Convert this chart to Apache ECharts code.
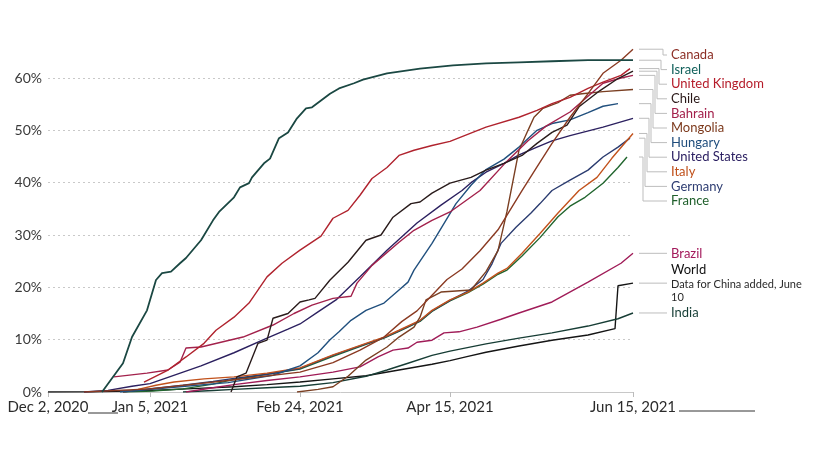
<!DOCTYPE html>
<html><head><meta charset="utf-8">
<script src="https://cdn.jsdelivr.net/npm/echarts@6/dist/echarts.min.js"></script>
<style>html,body{margin:0;padding:0;background:#fff}#c{width:816px;height:459px}</style>
</head><body><div id="c"></div>
<script>
// x values are days since Dec 2, 2020; y values are % of population with at least one dose
const tickDays = [0, 34, 84, 134, 195];
const tickLabels = ['Dec 2, 2020', 'Jan 5, 2021', 'Feb 24, 2021', 'Apr 15, 2021', 'Jun 15, 2021'];

const canada = [[12,0],[34,0.6],[60,2.2],[84,3.8],[95,5.6],[104,8],[112,10.5],[118,13.5],[123,15.5],[128,18.5],[133,21.5],[138,23.5],[144,27],[150,31],[153,33.8],[158,38.5],[163,43],[168,47.5],[174,52.5],[180,57],[185,60.9],[191,63.4],[195,65.5]];
const israel = [[18,0],[25,5.5],[28,10.5],[33,15.6],[36,21.4],[38,22.7],[41,23],[44,24.6],[46,25.6],[51,29],[55,32.8],[57,34.4],[62,37.2],[64,39.1],[67,39.9],[68,41],[72,43.7],[74,44.6],[77,48.5],[80,49.6],[83,52.3],[86,54.2],[88,54.4],[91,55.7],[94,57],[97,58],[102,59],[105,59.7],[113,60.9],[124,61.8],[135,62.4],[146,62.8],[157,63],[168,63.2],[180,63.4],[195,63.4]];
const uk = [[32,1.9],[40,4.2],[46,6.7],[52,9.3],[56,11.8],[62,14.3],[67,17],[73,22],[78,24.6],[84,27.1],[91,29.8],[95,33.2],[100,34.7],[104,37.6],[108,40.8],[113,42.9],[117,45.2],[122,46.2],[128,47.1],[134,47.9],[146,50.6],[157,52.5],[163,53.8],[168,55.1],[174,56.3],[180,58],[185,59.2],[191,60.5],[194,61.8]];
const chile = [[61,0],[63,2.9],[66,3.6],[70,9.3],[73,9.9],[75,14.1],[80,15],[84,17.2],[87,17.6],[89,17.9],[94,21.4],[100,24.8],[106,29],[111,30],[115,33.4],[121,36],[124,36.3],[128,38],[134,39.9],[141,41],[146,42.4],[152,43.7],[158,45.2],[163,47.5],[168,49.6],[173,51],[177,54.5],[184,57.6],[190,59.9],[195,61.3]];
const bahrain = [[22,2.9],[33,3.6],[40,4.2],[44,5.7],[46,8.4],[51,8.6],[65,10.5],[75,12.8],[82,15],[88,16.6],[95,17.9],[101,18.3],[103,20.8],[108,24.2],[117,28.6],[122,30.9],[128,32.8],[134,34.4],[144,38.5],[152,43.5],[160,48],[166,50.8],[174,53.5],[180,56.5],[185,59],[191,60],[195,60.5]];
const mongolia = [[83,0],[90,0.5],[95,1],[100,3],[106,6.1],[113,8.6],[117,10.5],[122,12.4],[124,14.3],[126,17.6],[131,19.1],[141,19.5],[146,23],[150,27],[153,34.5],[157,46.2],[160,50],[162,52.5],[165,54.2],[170,55.3],[174,56.7],[178,57],[185,57.4],[195,57.8]];
const hungary = [[24,0],[40,0.8],[60,1.8],[75,3.2],[80,4.2],[84,5],[90,7.5],[94,10],[97,11.5],[101,13.7],[106,15.6],[112,17],[117,19.5],[120,21],[122,23.3],[128,28.4],[136,36],[141,39.5],[146,42.5],[152,44.5],[157,46.8],[163,50],[168,51.3],[174,52],[180,53.4],[185,54.6],[190,55.1]];
const unitedStates = [[12,0],[20,0.3],[28,1.1],[34,1.6],[40,2.8],[51,5],[62,7.5],[73,10.3],[80,12],[84,13],[90,15.3],[96,17.6],[104,22],[113,27.1],[123,32.3],[131,35.7],[138,38.5],[141,40],[146,42],[152,43.7],[157,45.3],[163,46.8],[168,48],[174,49],[185,50.6],[195,52.3]];
const italy = [[25,0],[30,0.5],[36,1.3],[42,1.9],[52,2.5],[62,2.9],[73,3.6],[84,4.6],[95,7.1],[106,9.3],[112,10.5],[117,11.8],[124,13.7],[128,15.6],[134,17.6],[140,19.1],[145,20.8],[150,22.7],[153,23.6],[158,26.5],[164,30.3],[170,34.2],[177,38.5],[183,41],[188,44.7],[195,49.4]];
const germany = [[25,0],[35,0.7],[45,1.3],[55,2],[62,2.6],[73,3.4],[84,4.5],[95,7],[106,9.2],[112,10.4],[117,11.7],[124,13.6],[128,15.5],[134,17.5],[140,19.3],[145,21.5],[148,24.5],[151,28.4],[156,31.5],[161,34.2],[164,36],[168,38.5],[174,40.5],[180,42.4],[185,44.9],[190,46.8],[194,48.5]];
const france = [[25,0],[35,0.2],[45,0.6],[55,1.5],[62,2.4],[73,3.4],[84,4.4],[95,6.8],[106,9.1],[112,10.3],[117,11.6],[124,13.5],[128,15.4],[134,17.4],[140,19],[145,20.6],[150,22.5],[153,23.3],[158,26],[164,29.5],[170,33.5],[174,35.5],[179,37.2],[185,39.9],[190,42.9],[193,44.9]];
const brazil = [[46,0],[55,0.8],[62,1.4],[73,2.2],[84,2.9],[95,3.8],[104,4.8],[110,6.7],[115,8],[120,8.4],[123,9.5],[128,9.9],[132,11.3],[137,11.5],[143,12.4],[151,13.9],[157,15.1],[168,17.2],[180,21],[191,24.6],[195,26.5]];
const world = [[0,0],[15,0.05],[34,0.3],[50,0.7],[62,1],[73,1.4],[84,1.9],[95,2.5],[106,3.1],[117,4.2],[128,5.3],[134,6],[140,6.8],[146,7.6],[157,8.8],[168,9.9],[180,10.9],[189,12.1],[190,20.3],[195,20.8]];
const india = [[45,0],[55,0.3],[62,0.5],[73,0.8],[84,1.1],[95,1.8],[106,3],[113,4.2],[120,5.5],[128,7],[134,7.8],[146,9.2],[157,10.3],[168,11.3],[180,12.6],[190,14],[195,15.1]];

const names = ['Canada','Israel','United Kingdom','Chile','Bahrain','Mongolia','Hungary','United States','Italy','Germany','France','Brazil','World','India'];
const values = [canada, israel, uk, chile, bahrain, mongolia, hungary, unitedStates, italy, germany, france, brazil, world, india];
const lineColors = ['#8a3a22','#1b4843','#b0232e','#2a1c1c','#a3224c','#7a3f22','#21507e','#2c2160','#c2521c','#2b3c70','#22662f','#a01c58','#151515','#173d35'];
const labelColors = ['#8c2f26','#11605b','#b51c2a','#2a1818','#a3204b','#7d3a1d','#1f4d7c','#2c2062','#c0501a','#2e3d72','#1f5f2b','#a3195b','#111111','#163e36'];
const worldNote = ['Data for China added, June', '10'];

const drawOrder = [12,13,11,10,9,8,7,6,5,4,3,2,0,1];
const chart = echarts.init(document.getElementById('c'), null, {renderer: 'canvas'});
const series = drawOrder.map(i => ({
  name: names[i], type: 'line', data: values[i], showSymbol: false, symbol: 'none',
  lineStyle: {color: lineColors[i], width: i === 1 ? 1.8 : 1.4}, itemStyle: {color: lineColors[i]},
  emphasis: {disabled: true}, silent: true, z: 2
}));

chart.setOption({
  animation: false,
  backgroundColor: '#ffffff',
  grid: {left: 48, right: 183, top: 46.6, bottom: 67, containLabel: false},
  xAxis: {
    type: 'value', min: 0, max: 195,
    splitLine: {show: false},
    axisLine: {show: true, lineStyle: {color: '#c8c8c8', width: 1}},
    axisTick: {show: true, customValues: tickDays, length: 5, lineStyle: {color: '#bbbbbb'}},
    axisLabel: {
      customValues: tickDays, margin: 8, color: '#2b2b2b', fontSize: 15, fontFamily: 'Lato, sans-serif',
      formatter: v => { const k = tickDays.indexOf(v); return k >= 0 ? tickLabels[k] : ''; }
    }
  },
  yAxis: {
    type: 'value', min: 0, max: 66, interval: 10,
    axisLine: {show: false}, axisTick: {show: false},
    splitLine: {show: true, showMinLine: false, showMaxLine: false, lineStyle: {color: '#c9c9c9', type: [2, 3], width: 1}},
    axisLabel: {showMaxLabel: false, margin: 6, color: '#3a3a3a', fontSize: 14, fontFamily: 'Lato, sans-serif', formatter: v => v + '%'}
  },
  series: series
});

// annotation labels with leader lines, positioned from the library's own scales
const rightX = chart.convertToPixel({gridIndex: 0}, [195, 0])[0];
const topY = chart.convertToPixel({gridIndex: 0}, [0, 66])[1];
const ends = values.map(v => chart.convertToPixel({gridIndex: 0}, v[v.length - 1]));
const startX = rightX + 6, textX = rightX + 38, lineEndX = textX - 4;
const gap = 14.6;
const elems = [];
let prev = -1e9;
for (let i = 0; i < 11; i++) {
  const ey = ends[i][1];
  let ly = Math.max(ey, prev + gap, i === 0 ? topY + 8.4 : -1e9);
  prev = ly;
  const ex = rightX + 30 - 2 * i;
  const pts = Math.abs(ly - ey) < 0.8 ? [[startX, ey], [lineEndX, ey]] : [[startX, ey], [ex, ey], [ex, ly], [lineEndX, ly]];
  elems.push({type: 'polyline', silent: true, shape: {points: pts}, style: {stroke: '#bdbdbd', fill: null, lineWidth: 1}});
  elems.push({type: 'text', silent: true, style: {text: names[i], x: textX, y: ly, fill: labelColors[i], fontSize: 13, fontFamily: 'Lato, sans-serif', verticalAlign: 'middle', align: 'left'}});
}
for (let i = 11; i < 14; i++) {
  const ey = ends[i][1];
  elems.push({type: 'polyline', silent: true, shape: {points: [[startX, ey], [lineEndX, ey]]}, style: {stroke: '#bdbdbd', fill: null, lineWidth: 1}});
  if (names[i] === 'World') {
    elems.push({type: 'text', silent: true, style: {text: names[i], x: textX, y: ey - 13, fill: labelColors[i], fontSize: 13, fontFamily: 'Lato, sans-serif', verticalAlign: 'middle'}});
    worldNote.forEach((t, k) => elems.push({type: 'text', silent: true, style: {text: t, x: textX, y: ey + 1 + 13.5 * k, fill: '#2a2a2a', fontSize: 11, fontFamily: 'Lato, sans-serif', verticalAlign: 'middle'}}));
  } else {
    elems.push({type: 'text', silent: true, style: {text: names[i], x: textX, y: ey, fill: labelColors[i], fontSize: 13, fontFamily: 'Lato, sans-serif', verticalAlign: 'middle'}});
  }
}
// stray underline strokes visible in the source image
const baseY = chart.convertToPixel({gridIndex: 0}, [0, 0])[1];
const x0 = chart.convertToPixel({gridIndex: 0}, [0, 0])[0];
elems.push({type: 'line', silent: true, shape: {x1: x0 + 40, y1: baseY + 21, x2: x0 + 70, y2: baseY + 21}, style: {stroke: '#333', lineWidth: 1}});
elems.push({type: 'line', silent: true, shape: {x1: rightX + 46, y1: baseY + 19, x2: rightX + 122, y2: baseY + 19}, style: {stroke: '#333', lineWidth: 1}});
chart.setOption({graphic: elems});
</script></body></html>
